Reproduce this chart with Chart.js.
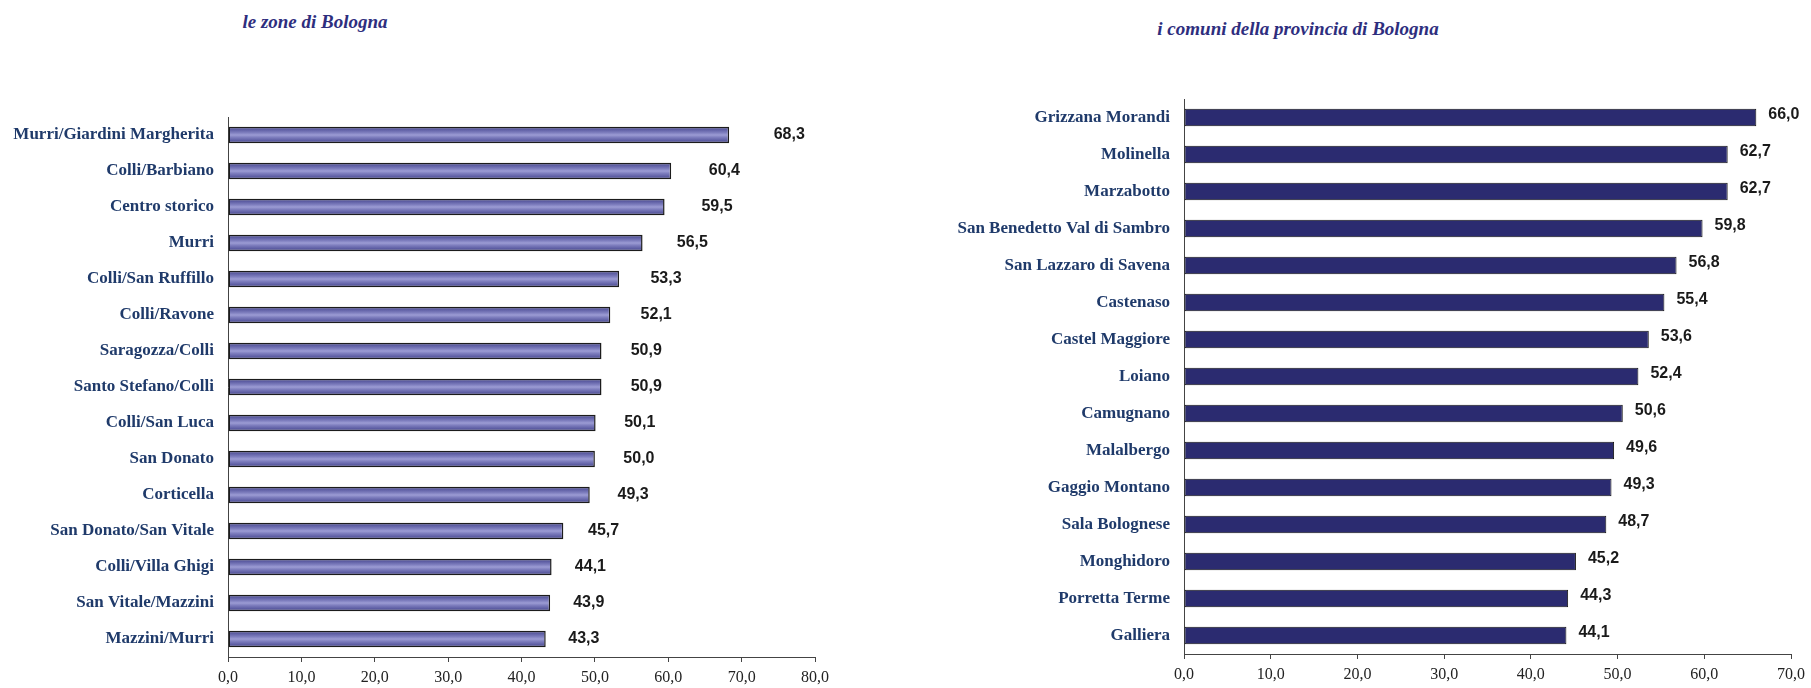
<!DOCTYPE html>
<html lang="it">
<head>
<meta charset="utf-8">
<title>Bologna</title>
<script src="https://cdn.jsdelivr.net/npm/chart.js@4/dist/chart.umd.min.js"></script>
<style>
  html, body { margin: 0; padding: 0; background: #fff; }
  body { width: 1811px; height: 688px; position: relative; overflow: hidden; }
  canvas { position: absolute; top: 0; }
  #zone-chart { left: 0; }
  #comuni-chart { left: 900px; }
  .titolo {
    position: absolute;
    font-family: "Liberation Serif", "Times New Roman", serif;
    font-weight: bold;
    font-style: italic;
    font-size: 19px;
    color: #2e2e7e;
    white-space: nowrap;
    transform: translate(-50%, -50%);
  }
</style>
</head>
<body>
<div class="titolo" style="left:315px; top:22px;">le zone di Bologna</div>
<div class="titolo" style="left:1298px; top:29px;">i comuni della provincia di Bologna</div>
<canvas id="zone-chart" width="900" height="688"></canvas>
<canvas id="comuni-chart" width="911" height="688"></canvas>
<script>
// zone della città
const zoneLabels = [
  'Murri/Giardini Margherita', 'Colli/Barbiano', 'Centro storico', 'Murri',
  'Colli/San Ruffillo', 'Colli/Ravone', 'Saragozza/Colli', 'Santo Stefano/Colli',
  'Colli/San Luca', 'San Donato', 'Corticella', 'San Donato/San Vitale',
  'Colli/Villa Ghigi', 'San Vitale/Mazzini', 'Mazzini/Murri'
];
const zoneValues = [68.3, 60.4, 59.5, 56.5, 53.3, 52.1, 50.9, 50.9, 50.1, 50.0, 49.3, 45.7, 44.1, 43.9, 43.3];
const zoneMax = 80;

// comuni della provincia
const comuniLabels = [
  'Grizzana Morandi', 'Molinella', 'Marzabotto', 'San Benedetto Val di Sambro',
  'San Lazzaro di Savena', 'Castenaso', 'Castel Maggiore', 'Loiano', 'Camugnano',
  'Malalbergo', 'Gaggio Montano', 'Sala Bolognese', 'Monghidoro', 'Porretta Terme', 'Galliera'
];
const comuniValues = [66.0, 62.7, 62.7, 59.8, 56.8, 55.4, 53.6, 52.4, 50.6, 49.6, 49.3, 48.7, 45.2, 44.3, 44.1];
const comuniMax = 70;

const tickStep = 10;

const serif = '"Liberation Serif", "Times New Roman", serif';
const narrow = '"Liberation Sans Narrow", "Arial Narrow", "Liberation Sans", Arial, sans-serif';

function virgola(v) {
  return Number(v).toFixed(1).replace('.', ',');
}

// barra lilla con riflesso orizzontale al centro
function barraLilla(context) {
  const el = context.element;
  if (!el || el.y == null || isNaN(el.y) || !el.height) return '#7f7fbf';
  const h = el.height;
  const g = context.chart.ctx.createLinearGradient(0, el.y - h / 2, 0, el.y + h / 2);
  g.addColorStop(0, '#34346a');
  g.addColorStop(0.16, '#5c5ca2');
  g.addColorStop(0.36, '#7e7ebe');
  g.addColorStop(0.5, '#9c9cd4');
  g.addColorStop(0.64, '#7e7ebe');
  g.addColorStop(0.84, '#5c5ca2');
  g.addColorStop(1, '#34346a');
  return g;
}

// etichette dei valori accanto alle barre
function etichetteValori(opts) {
  return {
    id: 'etichetteValori',
    afterDatasetsDraw(chart) {
      const ctx = chart.ctx;
      const meta = chart.getDatasetMeta(0);
      const xs = chart.scales.x;
      const valori = chart.data.datasets[0].data;
      ctx.save();
      ctx.font = 'bold 16px ' + narrow;
      ctx.fillStyle = '#1a1a1a';
      ctx.textBaseline = 'middle';
      meta.data.forEach((bar, i) => {
        const v = valori[i];
        if (opts.scostamento) {
          ctx.textAlign = 'center';
          ctx.fillText(virgola(v), xs.getPixelForValue(v * opts.scostamento), bar.y);
        } else {
          ctx.textAlign = 'left';
          ctx.fillText(virgola(v), bar.x + opts.distanza, bar.y + opts.alzo);
        }
      });
      ctx.restore();
    }
  };
}

function creaGrafico(id, labels, values, max, conf) {
  return new Chart(document.getElementById(id), {
    type: 'bar',
    data: {
      labels: labels,
      datasets: [{
        data: values,
        backgroundColor: conf.colore,
        borderColor: conf.bordo,
        borderWidth: conf.spessoreBordo,
        borderSkipped: false,
        barPercentage: conf.barPercentage,
        categoryPercentage: 1
      }]
    },
    options: {
      indexAxis: 'y',
      responsive: false,
      animation: false,
      events: [],
      layout: { padding: { top: conf.alto, right: conf.destra, bottom: 0, left: 0 } },
      plugins: {
        legend: { display: false },
        tooltip: { enabled: false },
        title: { display: false }
      },
      scales: {
        x: {
          min: 0,
          max: max,
          ticks: {
            stepSize: tickStep,
            padding: 6,
            color: '#222',
            font: { family: serif, size: 16 },
            callback: v => virgola(v)
          },
          grid: { drawOnChartArea: false, drawTicks: true, tickLength: 5, color: '#444' },
          border: { display: true, color: '#444', width: 1 },
          afterFit(scale) { scale.height = conf.altezzaAsse; }
        },
        y: {
          ticks: {
            padding: 6,
            color: '#1f3a6a',
            font: { family: serif, size: 17, weight: 'bold' }
          },
          grid: { display: false },
          border: { display: true, color: '#444', width: 1 },
          afterFit(scale) { scale.width = conf.larghezzaEtichette; }
        }
      }
    },
    plugins: [etichetteValori(conf.etichette)]
  });
}

const graficoZone = creaGrafico('zone-chart', zoneLabels, zoneValues, zoneMax, {
  colore: barraLilla,
  bordo: '#1c1c1c',
  spessoreBordo: 1.5,
  barPercentage: 0.46,
  alto: 117,
  destra: 85,
  altezzaAsse: 31,
  larghezzaEtichette: 228,
  etichette: { scostamento: 1.12 }
});
// secondo passaggio: il gradiente usa la posizione già calcolata delle barre
graficoZone.update('none');

creaGrafico('comuni-chart', comuniLabels, comuniValues, comuniMax, {
  colore: '#2b2b70',
  bordo: '#141414',
  spessoreBordo: 1,
  barPercentage: 0.47,
  alto: 99,
  destra: 20,
  altezzaAsse: 34,
  larghezzaEtichette: 284,
  etichette: { distanza: 12, alzo: -3 }
});
</script>
</body>
</html>
